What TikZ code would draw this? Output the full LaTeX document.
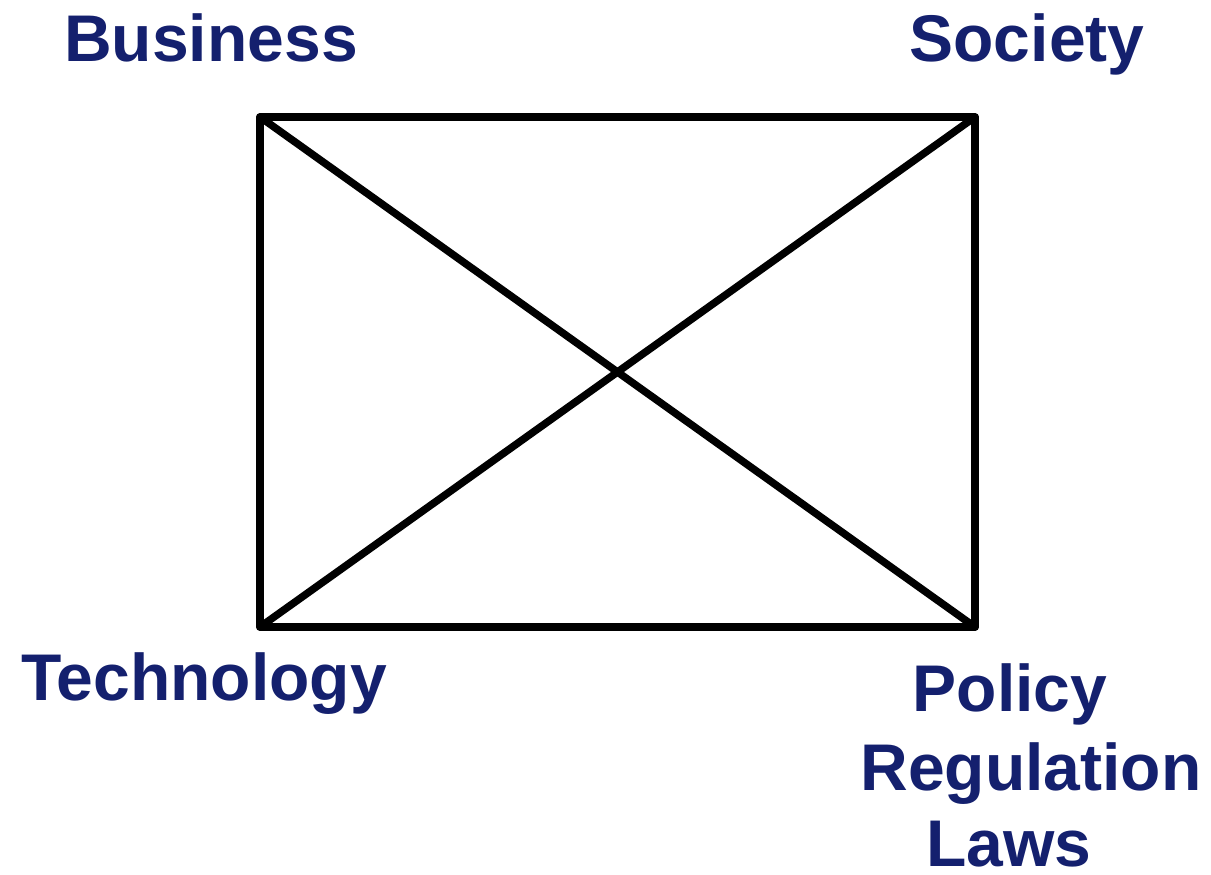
\documentclass[tikz,border=0pt]{standalone}
\usepackage{fontspec}
\setmainfont{Liberation Sans}
\definecolor{navy}{RGB}{20,32,110}
\begin{document}
\begin{tikzpicture}[x=1pt,y=-1pt,
  lbl/.style={font=\fontsize{66}{80}\selectfont\bfseries, text=navy, inner sep=0pt, anchor=base},
  edge/.style={line width=7.5pt, line join=round, line cap=round, draw=black}]
\useasboundingbox (0,0) rectangle (1211,875);
\coordinate (tl) at (260,117);
\coordinate (tr) at (975,117);
\coordinate (bl) at (260,627);
\coordinate (br) at (975,627);
\draw[edge] (tl) -- (tr) -- (br) -- (bl) -- cycle;
\draw[edge] (tl) -- (br);
\draw[edge] (tr) -- (bl);
\node[lbl] (bus) at (211,62) {Business};
\node[lbl] (soc) at (1027,62) {Society};
\node[lbl] (tech) at (204,700) {Technology};
\node[lbl] (pol) at (1010,711) {Policy};
\node[lbl] (reg) at (1031,790) {Regulation};
\node[lbl] (laws) at (1009,866) {Laws};
\end{tikzpicture}
\end{document}
